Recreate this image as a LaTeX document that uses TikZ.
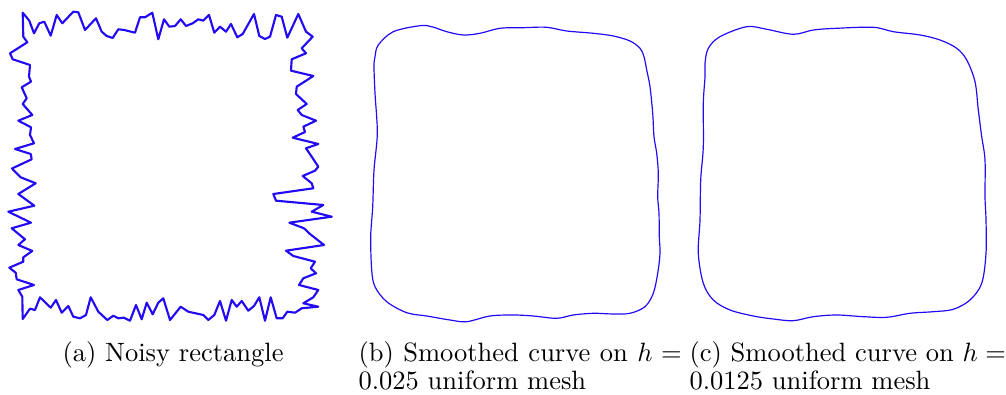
\documentclass[tikz,border=0pt]{standalone}
\definecolor{curveblue}{RGB}{35,10,245}
\tikzset{
  noisy/.style={draw=curveblue, line width=0.8pt, line join=round},
  smoothc/.style={draw=curveblue, line width=0.45pt},
  captext/.style={anchor=base west, inner sep=0pt, font=\normalsize}
}
\begin{document}
\begin{tikzpicture}[x=0.3774pt, y=-0.3774pt]
\useasboundingbox (0,0) rectangle (1006,395);
% (a) noisy rectangle
\draw[noisy] (22.7,12.7) -- (29.3,20.7) -- (34,33.3) -- (39.3,23.3) -- (44.3,21.7) -- (50.7,35.7) -- (56.7,15) -- (62.3,23.3) -- (73.3,11.7) -- (78.3,12.3) -- (85,30) -- (96,18.3) -- (101.7,31.7) -- (106.7,36) -- (112.7,38) -- (118.3,29.3) -- (124.3,30) -- (135,32.7) -- (140,17.3) -- (145,17.3) -- (152.3,12.7) -- (158.3,39.3) -- (164,19.3) -- (169.3,26.7) -- (175,26) -- (180.7,19.3) -- (186,26) -- (192.7,23.3) -- (198.3,19.3) -- (203.3,20.7) -- (209,15) -- (214.3,32.7) -- (220,26.7) -- (226,31.7) -- (231,24) -- (237.3,37.3) -- (242.7,34) -- (254,14) -- (259.3,36) -- (265,39) -- (270,36.7) -- (276,15) -- (281.7,16.7) -- (287.3,37.7) -- (298.3,14) -- (306,31.7) -- (312.7,36.7)
 -- (301.7,48.3) -- (306,53.3) -- (291.7,59.3) -- (291,70.7) -- (313.3,76) -- (296.7,86.7) -- (296,94) -- (306.7,104) -- (297.7,110) -- (301.7,115) -- (316,120.7) -- (303.3,126.7) -- (305,132) -- (292.7,137.7) -- (318.3,144) -- (306,148.3) -- (311.7,156.7) -- (318.3,166.7) -- (315,170.7) -- (302.7,176) -- (311.7,183.3) -- (313.3,188.3) -- (273.3,194) -- (276,200.7) -- (323.3,205) -- (311.7,211.7) -- (331.7,216.7) -- (289.3,222.7) -- (304,228.3) -- (310,234) -- (324,245) -- (286,250.7) -- (293.3,256) -- (315,261.7) -- (310.7,268.3) -- (316,273.3) -- (303.3,278.3) -- (299,285) -- (318.3,290) -- (313.3,297.3) -- (303.3,303.3) -- (318.3,306.7) -- (301.7,308.3) -- (295,312.7) -- (287.3,311.7) -- (282.7,318.3)
 -- (276.7,318.3) -- (270.7,297.3) -- (265,320.7) -- (259.3,297.3) -- (254,306) -- (248.3,310.7) -- (241.7,301) -- (236.7,306.7) -- (231.7,300) -- (226,320.7) -- (220,301) -- (214.3,315) -- (208.3,320) -- (203.3,315) -- (188.3,311.7) -- (180.7,306.7) -- (170,320) -- (163.3,298.3) -- (158.3,302.7) -- (152.7,314.3) -- (146.7,302.7) -- (141.7,319.3) -- (136,305) -- (130,320.7) -- (124,317.7) -- (118.3,318.3) -- (113.3,315.7) -- (107.3,320) -- (98.3,311.7) -- (90.7,297.3) -- (86,315) -- (80,318.3) -- (73.3,316.7) -- (68.3,306) -- (61.7,312.7) -- (56,300) -- (50.7,307.7) -- (40,297.3) -- (35,310) -- (30,308.7) -- (22.7,319) -- (22.3,296.7)
 -- (18.3,290) -- (34,285) -- (16.7,279.3) -- (15.7,272.7) -- (9.3,267.7) -- (23.3,261.7) -- (23.3,257.3) -- (32.3,251) -- (18.3,245) -- (25,239.3) -- (11.7,228.3) -- (31,222.7) -- (8.3,211.7) -- (34.3,205.7) -- (18.3,194) -- (35.7,183.3) -- (20.7,177.3) -- (12,168.5) -- (31.7,159.3) -- (30.7,154) -- (15,149) -- (34,143.3) -- (30,135) -- (31,127.3) -- (18.3,120.7) -- (32.3,115) -- (22.7,104) -- (26.7,98.3) -- (21.7,87.3) -- (31,81.7) -- (29,76.7) -- (30,65) -- (12.7,59.3) -- (10,53.3) -- (27.3,42.3) -- (23.3,36.7) -- cycle;
% (b) smoothed curve, h = 0.025
\draw[smoothc] plot[smooth cycle, tension=0.55] coordinates {(375,56.7) (378.3,45) (393.3,31.7) (420,25.7) (431.7,26.7) (446.7,31.7) (463.3,35) (480,33.3) (500,28.3) (523.3,27.7) (546.7,27.3) (566.7,31) (593.3,33.3) (613.3,36) (630,41) (640,48.3) (644,56.7) (646.7,70) (650,86.7) (652.7,113.3) (654,136.7) (656.7,153.3) (658.3,173.3) (657.7,196.7) (659,213.3) (659.3,236.7) (660,253.3) (657.7,273.3) (653.3,293.3) (645,306.7) (630,313.3) (613.3,314) (593.3,313.3) (573.3,315) (556.7,318.3) (533.3,316) (513.3,315) (490,316) (466.7,321.7) (450,320) (426.7,316) (406.7,312.7) (386.7,301.7) (375,286.7) (371.7,270) (370.7,236.7) (372.7,206.7) (374,170) (377.3,133.3) (375,93.3) (374,66.7)};
% (c) smoothed curve, h = 0.0125
\draw[smoothc] plot[smooth cycle, tension=0.55] coordinates {(705,63.3) (708.3,48.3) (720,36.7) (746.7,26.7) (766.7,29.3) (793.3,34.3) (813.3,30) (836.7,28.3) (873.3,27.3) (893.3,31.7) (920,35) (940,40) (956.7,48.3) (966.7,60) (975,81.7) (978.3,110) (981.7,136.7) (985,160) (985,196.7) (986,220) (986,253.3) (981.7,283.3) (970,300) (953.3,309.3) (933.3,311.7) (910,313.3) (886.7,317.3) (863.3,316.7) (836.7,315) (813.3,316.7) (793.3,320.7) (773.3,319) (753.3,316) (730,310) (713.3,300) (703.3,283.3) (698.3,253.3) (700,220) (700.7,180) (703.3,146.7) (703.3,103.3) (705,76.7)};
% captions
\node[captext] (capa) at (62,362) {(a) Noisy rectangle};
\node[captext] (capb1) at (358,362) {\hbox to 122pt{(b) Smoothed curve on $h =$}};
\node[captext] (capb2) at (358,390) {0.025 uniform mesh};
\node[captext] (capc1) at (689,362) {(c) Smoothed curve on $h =$};
\node[captext] (capc2) at (689,390) {0.0125 uniform mesh};
\end{tikzpicture}
\end{document}
